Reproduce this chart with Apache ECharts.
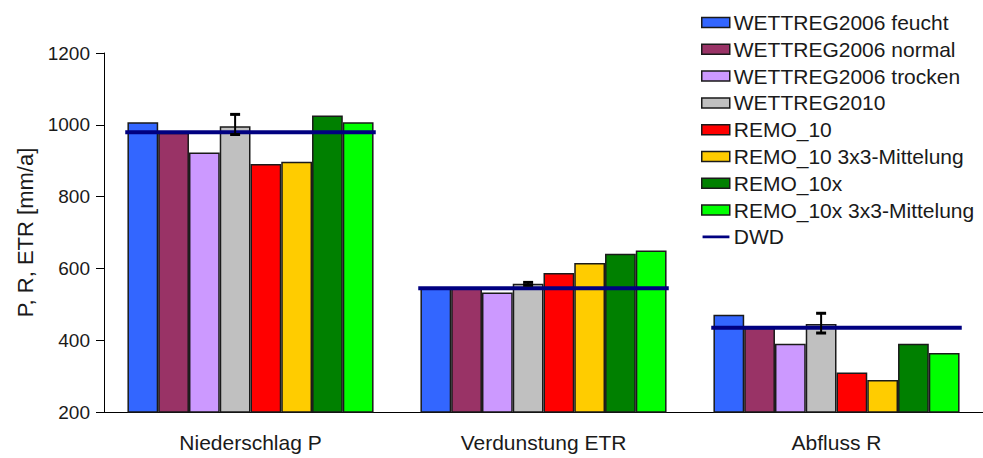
<!DOCTYPE html>
<html>
<head>
<meta charset="utf-8">
<script src="https://cdn.jsdelivr.net/npm/echarts@6/dist/echarts.min.js"></script>
<style>
  html, body { margin: 0; padding: 0; background: #fff; }
  #chart { width: 983px; height: 458px; }
</style>
</head>
<body>
<div id="chart"></div>
<script>
const categories = ['Niederschlag P', 'Verdunstung ETR', 'Abfluss R'];
const yTicks = [200, 400, 600, 800, 1000, 1200];

const wettreg06Feucht = [1007, 545, 471];
const wettreg06Normal = [978, 544, 435];
const wettreg06Trocken = [923, 533, 390];
const wettreg2010 = [996, 557, 445];
const remo10 = [891, 587, 310];
const remo10Mittel = [897, 615, 289];
const remo10x = [1026, 641, 390];
const remo10xMittel = [1007, 650, 364];
const dwd = [979, 545, 435];
const wettreg2010Low = [973, 553, 420];
const wettreg2010High = [1029, 561, 475];

const barNames = [
  'WETTREG2006 feucht', 'WETTREG2006 normal', 'WETTREG2006 trocken', 'WETTREG2010',
  'REMO_10', 'REMO_10 3x3-Mittelung', 'REMO_10x', 'REMO_10x 3x3-Mittelung'
];
const barData = [wettreg06Feucht, wettreg06Normal, wettreg06Trocken, wettreg2010,
  remo10, remo10Mittel, remo10x, remo10xMittel];
const barColors = ['#3366ff', '#993366', '#cc99ff', '#c0c0c0', '#ff0000', '#ffcc00', '#008000', '#00ff00'];

const font = "'Liberation Sans', Arial, sans-serif";
const groupShare = 0.84; // share of the category band filled by the bars

const chart = echarts.init(document.getElementById('chart'), null, { renderer: 'svg' });

const series = barNames.map((name, i) => ({
  name: name,
  type: 'bar',
  data: barData[i],
  barGap: 0,
  barCategoryGap: '16%',
  itemStyle: { color: barColors[i], borderColor: '#1a1a1a', borderWidth: 1.5 }
}));

series.push({
  name: 'DWD',
  type: 'custom',
  z: 5,
  data: dwd.map((v, i) => [i, v]),
  encode: { x: 0, y: 1 },
  itemStyle: { color: '#000080' },
  renderItem: (params, api) => {
    const p = api.coord([api.value(0), api.value(1)]);
    const half = api.size([1, 0])[0] * 0.855 / 2;
    return {
      type: 'line',
      shape: { x1: p[0] - half, y1: p[1], x2: p[0] + half, y2: p[1] },
      style: { stroke: '#000080', lineWidth: 4 }
    };
  }
});

series.push({
  name: 'err',
  type: 'custom',
  z: 6,
  data: wettreg2010Low.map((v, i) => [i, v, wettreg2010High[i]]),
  encode: { x: 0, y: [1, 2] },
  renderItem: (params, api) => {
    const idx = api.value(0);
    const lo = api.coord([idx, api.value(1)]);
    const hi = api.coord([idx, api.value(2)]);
    const band = api.size([1, 0])[0];
    const barW = band * groupShare / 8;
    const x = lo[0] - band * groupShare / 2 + 3.5 * barW;
    const st = { stroke: '#000', lineWidth: 2 };
    return {
      type: 'group',
      children: [
        { type: 'line', shape: { x1: x, y1: lo[1], x2: x, y2: hi[1] }, style: st },
        { type: 'line', shape: { x1: x - 5, y1: lo[1], x2: x + 5, y2: lo[1] }, style: { stroke: '#000', lineWidth: 3 } },
        { type: 'line', shape: { x1: x - 5, y1: hi[1], x2: x + 5, y2: hi[1] }, style: { stroke: '#000', lineWidth: 3 } }
      ]
    };
  }
});

const legendData = barNames.map((n, i) => ({
  name: n,
  itemStyle: { color: barColors[i], borderColor: '#1a1a1a', borderWidth: 1.5 }
}));
legendData.push({
  name: 'DWD',
  icon: 'path://M0,0h0.05v0.05h-0.05z M0,10h0.05v0.05h-0.05z M0.5,3.5h27v3h-27z',
  itemStyle: { color: '#000080', borderWidth: 0 }
});

chart.setOption({
  animation: false,
  textStyle: { fontFamily: font },
  grid: { left: 104, top: 53, width: 883, bottom: 46, containLabel: false },
  legend: {
    orient: 'vertical',
    left: 696,
    top: 7,
    icon: 'rect',
    itemWidth: 28,
    itemHeight: 10,
    itemGap: 5.8,
    data: legendData,
    textStyle: { fontFamily: font, fontSize: 21, lineHeight: 21, color: '#1a1a1a', padding: [0, 0, 0, -1] }
  },
  xAxis: {
    type: 'category',
    data: categories,
    axisLine: { lineStyle: { color: '#000', width: 1 } },
    axisTick: { length: 6, lineStyle: { color: '#000' } },
    axisLabel: { fontFamily: font, fontSize: 21, color: '#1a1a1a', margin: 20 }
  },
  yAxis: {
    type: 'value',
    min: yTicks[0],
    max: yTicks[yTicks.length - 1],
    interval: 200,
    name: 'P, R, ETR [mm/a]',
    nameLocation: 'middle',
    nameRotate: 90,
    nameGap: 65,
    nameTextStyle: { fontFamily: font, fontSize: 22, color: '#1a1a1a' },
    splitLine: { show: false },
    axisLine: { show: true, lineStyle: { color: '#000', width: 1 } },
    axisTick: { show: true, length: 8, lineStyle: { color: '#000' } },
    axisLabel: { fontFamily: font, fontSize: 19, color: '#1a1a1a', margin: 14, formatter: v => String(v) }
  },
  series: series
});
</script>
</body>
</html>
